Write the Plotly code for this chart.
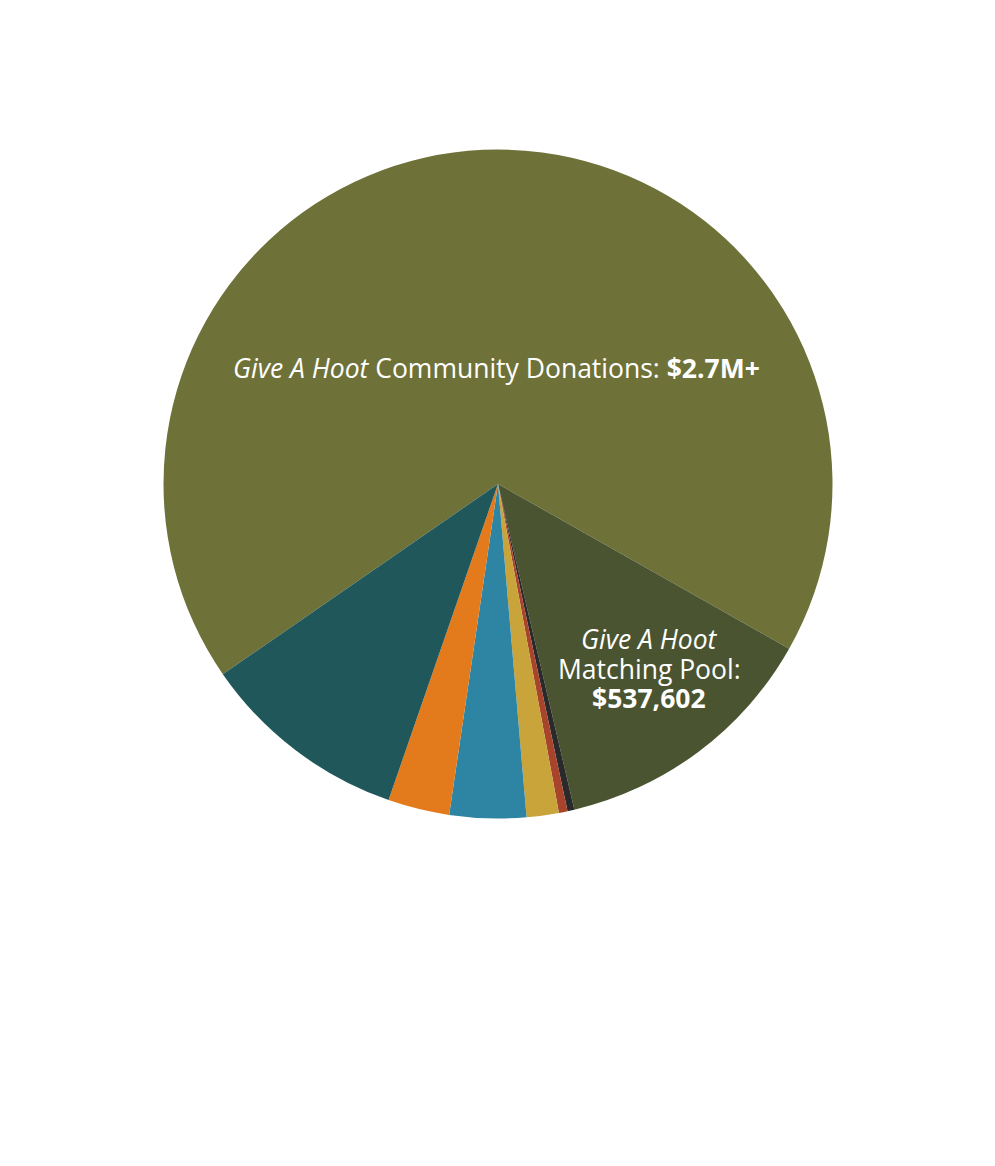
import plotly.graph_objects as go

categories = [
    "Give A Hoot Community Donations",
    "Give A Hoot Matching Pool",
    "Category 3",
    "Category 4",
    "Category 5",
    "Category 6",
    "Category 7",
    "Category 8",
]
values = [2775000, 537602, 13640, 17050, 63650, 151170, 121620, 412020]
colors = ["#6E7238", "#4A5431", "#2A2A2A", "#A8432C", "#C9A43B", "#2D84A3", "#E37B1D", "#20575A"]

W, H = 995, 1166
off = 8  # page body margin
cx, cy, r = 498 - off, 484 - off, 334.5

fig = go.Figure(go.Pie(
    labels=categories,
    values=values,
    sort=False,
    direction="clockwise",
    rotation=235.35,
    marker=dict(colors=colors, line=dict(width=0)),
    textinfo="none",
    hoverinfo="label+value",
    showlegend=False,
    domain=dict(x=[(cx - r) / W, (cx + r) / W], y=[(H - cy - r) / H, (H - cy + r) / H]),
))

font = dict(family="Open Sans, sans-serif", size=26.5, color="white")


def px(x, y):
    return (x - off) / W, 1 - (y - off) / H


ax, ay = px(496, 368)
fig.add_annotation(
    x=ax, y=ay, xref="paper", yref="paper",
    text="<i>Give A Hoot</i> Community Donations: <b>$2.7M+</b>",
    showarrow=False, font=font, xanchor="center", yanchor="middle",
)
match_lines = ["<i>Give A Hoot</i>", "Matching Pool:", "<b>$537,602</b>"]
for line, yy in zip(match_lines, [639, 669, 698]):
    ax, ay = px(649, yy)
    fig.add_annotation(
        x=ax, y=ay, xref="paper", yref="paper", text=line,
        showarrow=False, font=font, xanchor="center", yanchor="middle",
    )

fig.update_layout(
    width=W, height=H,
    margin=dict(l=0, r=0, t=0, b=0),
    paper_bgcolor="white", plot_bgcolor="white",
)
fig.write_html("out.html")
